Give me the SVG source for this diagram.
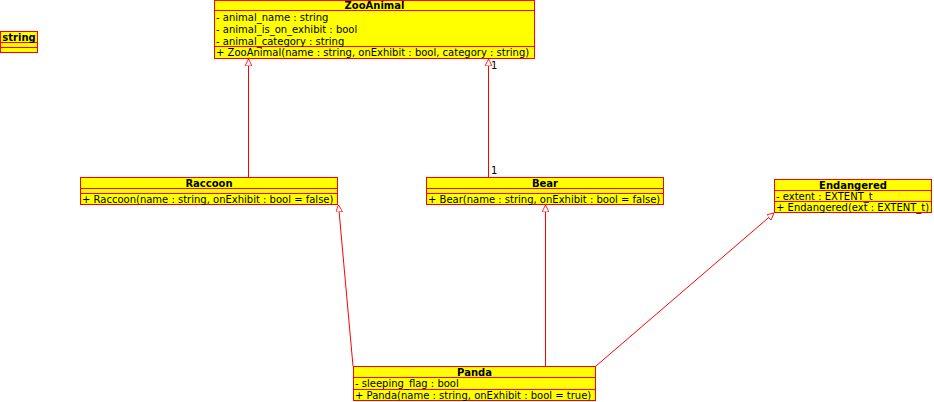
<svg xmlns="http://www.w3.org/2000/svg" width="934" height="402" viewBox="0 0 934 402">
<style>
.box{fill:#ffff00;stroke:#ff0000;stroke-width:1}
.ln{stroke:#ff0000;stroke-width:1;fill:none}
text{font-family:"DejaVu Sans",sans-serif;font-size:10px;fill:#000}
.h{font-weight:bold;text-anchor:middle}
.c{stroke:#ff0000;stroke-width:1;fill:none}
</style>
<defs>
<marker id="tri" viewBox="0 0 10 10" refX="10" refY="5" markerWidth="7" markerHeight="7" markerUnits="userSpaceOnUse" orient="auto">
<path d="M0,0 L10,5 L0,10 Z" fill="#ffffff" stroke="#ff0000" stroke-width="1.2"/>
</marker>
</defs>
<g id="connectors">
<line class="c" x1="248.5" y1="177" x2="248.5" y2="59" marker-end="url(#tri)"/>
<line class="c" x1="488.5" y1="177" x2="488.5" y2="59" marker-end="url(#tri)"/>
<text x="491" y="69">1</text>
<text x="491" y="174">1</text>
<line class="c" x1="353" y1="366" x2="338.5" y2="205" marker-end="url(#tri)"/>
<line class="c" x1="545.5" y1="366" x2="545.5" y2="205" marker-end="url(#tri)"/>
<line class="c" x1="596" y1="366" x2="774" y2="213" marker-end="url(#tri)"/>
</g>
<g id="string">
<rect class="box" x="0.5" y="31.5" width="37" height="21"/>
<line class="ln" x1="0.5" y1="42.5" x2="37.5" y2="42.5"/>
<line class="ln" x1="0.5" y1="47.5" x2="37.5" y2="47.5"/>
<text class="h" x="19" y="40.5">string</text>
</g>
<g id="ZooAnimal">
<rect class="box" x="214.5" y="0.5" width="320" height="58"/>
<line class="ln" x1="214.5" y1="10.5" x2="534.5" y2="10.5"/>
<line class="ln" x1="214.5" y1="46.5" x2="534.5" y2="46.5"/>
<text class="h" x="374.5" y="9">ZooAnimal</text>
<text x="216" y="20.5">- animal_name : string</text>
<text x="216" y="32.5">- animal_is_on_exhibit : bool</text>
<text x="216" y="44.5">- animal_category : string</text>
<text x="216" y="56">+ ZooAnimal(name : string, onExhibit : bool, category : string)</text>
</g>
<g id="Raccoon">
<rect class="box" x="80.5" y="177.5" width="257" height="27"/>
<line class="ln" x1="80.5" y1="188.5" x2="337.5" y2="188.5"/>
<line class="ln" x1="80.5" y1="193.5" x2="337.5" y2="193.5"/>
<text class="h" x="209" y="186.5">Raccoon</text>
<text x="82" y="202.5">+ Raccoon(name : string, onExhibit : bool = false)</text>
</g>
<g id="Bear">
<rect class="box" x="426.5" y="177.5" width="237" height="27"/>
<line class="ln" x1="426.5" y1="188.5" x2="663.5" y2="188.5"/>
<line class="ln" x1="426.5" y1="193.5" x2="663.5" y2="193.5"/>
<text class="h" x="545" y="186.5">Bear</text>
<text x="428" y="202.5">+ Bear(name : string, onExhibit : bool = false)</text>
</g>
<g id="Endangered">
<rect class="box" x="774.5" y="179.5" width="157" height="33"/>
<line class="ln" x1="774.5" y1="190.5" x2="931.5" y2="190.5"/>
<line class="ln" x1="774.5" y1="201.5" x2="931.5" y2="201.5"/>
<text class="h" x="853" y="188.5">Endangered</text>
<text x="776" y="199.5">- extent : EXTENT_t</text>
<text x="776" y="210.5">+ Endangered(ext : EXTENT_t)</text>
</g>
<g id="Panda">
<rect class="box" x="353.5" y="366.5" width="242" height="34"/>
<line class="ln" x1="353.5" y1="377.5" x2="595.5" y2="377.5"/>
<line class="ln" x1="353.5" y1="389.5" x2="595.5" y2="389.5"/>
<text class="h" x="474.5" y="375.5">Panda</text>
<text x="355" y="387">- sleeping_flag : bool</text>
<text x="355" y="398.5">+ Panda(name : string, onExhibit : bool = true)</text>
</g>
</svg>
